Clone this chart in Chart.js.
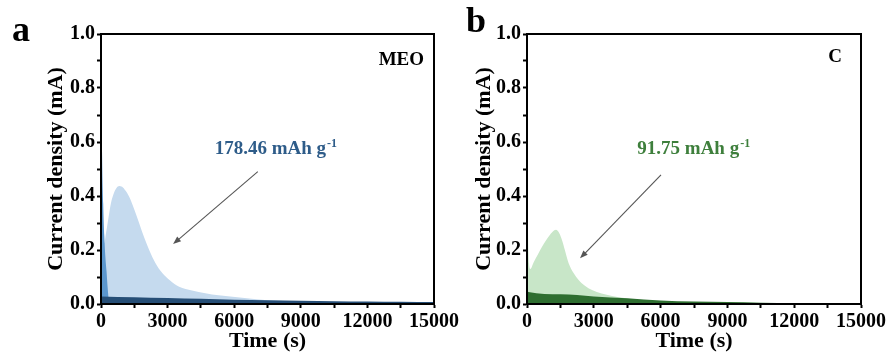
<!DOCTYPE html>
<html>
<head>
<meta charset="utf-8">
<script src="https://cdn.jsdelivr.net/npm/chart.js@4/dist/chart.umd.min.js"></script>
<style>
  html, body { margin: 0; padding: 0; background: #fff; }
  #wrap { position: relative; width: 890px; height: 358px; overflow: hidden; }
  #wrap canvas { position: absolute; top: 0; }
</style>
</head>
<body>
<div id="wrap">
  <canvas id="chartA" width="480" height="358" style="left:0"></canvas>
  <canvas id="chartB" width="445" height="358" style="left:445px"></canvas>
</div>
<script>
// ---- MEO cell (panel a) ----
const meoPeakTime = [0, 60, 150, 220, 300, 450, 600, 700, 820, 950, 1100, 1270, 1500, 1720, 1950, 2170, 2450, 2770, 3100, 3520, 4100, 4700, 5300, 5930, 7000, 8000, 9000, 10400, 12000, 13500, 15000];
const meoPeakCurrent = [0.25, 0.23, 0.226, 0.26, 0.30, 0.374, 0.415, 0.43, 0.437, 0.434, 0.42, 0.397, 0.35, 0.299, 0.245, 0.2, 0.152, 0.114, 0.088, 0.064, 0.05, 0.04, 0.032, 0.027, 0.018, 0.012, 0.0085, 0.005, 0.004, 0.003, 0.003];
const meoSpikeTime = [0, 20, 50, 100, 150, 200, 250, 300, 350, 390];
const meoSpikeCurrent = [1.0, 0.8, 0.55, 0.37, 0.25, 0.17, 0.12, 0.06, 0.015, 0];
const meoBaseTime = [0, 1500, 3000, 4500, 6000, 7500, 9000, 10500, 12000, 13500, 15000];
const meoBaseCurrent = [0.028, 0.025, 0.022, 0.019, 0.016, 0.014, 0.012, 0.0105, 0.009, 0.008, 0.007];

// ---- C cell (panel b) ----
const cPeakTime = [0, 40, 90, 150, 300, 500, 675, 850, 1000, 1150, 1300, 1450, 1570, 1700, 1870, 2100, 2320, 2600, 2920, 3350, 3820, 4300, 4865, 5500, 6500, 8300, 10000, 12000, 15000];
const cPeakCurrent = [0.62, 0.3, 0.15, 0.13, 0.155, 0.185, 0.212, 0.235, 0.253, 0.268, 0.275, 0.262, 0.237, 0.2, 0.151, 0.114, 0.089, 0.068, 0.052, 0.039, 0.03, 0.023, 0.017, 0.013, 0.009, 0.006, 0.005, 0.004, 0.003];
const cBaseTime = [0, 60, 1500, 3000, 4500, 6000, 7500, 9000, 10500, 12000, 13500, 15000];
const cBaseCurrent = [1.0, 0.044, 0.036, 0.028, 0.021, 0.013, 0.009, 0.007, 0.005, 0.004, 0.004, 0.004];

// ---- axes ----
const timeMax = 15000, timeStep = 1500, timeLabelEvery = 3000;
const currentMax = 1.0, currentStep = 0.1;

// ---- annotations ----
const meoCapacity = '178.46 mAh g';
const cCapacity = '91.75 mAh g';

const SERIF = '"Liberation Serif", "Times New Roman", serif';

const toPoints = (xs, ys) => xs.map((x, i) => ({ x, y: ys[i] }));

const area = (xs, ys, color) => ({
  data: toPoints(xs, ys),
  backgroundColor: color,
  borderWidth: 0,
  pointRadius: 0,
  fill: 'origin',
  cubicInterpolationMode: 'monotone',
});

// frame, panel letter, sample name and capacity note with arrow
const decor = {
  id: 'decor',
  afterDraw(chart, args, o) {
    const { ctx, chartArea: a, scales: { x, y } } = chart;
    ctx.save();

    ctx.strokeStyle = '#000';
    ctx.lineWidth = 2;
    ctx.strokeRect(a.left, a.top, a.right - a.left, a.bottom - a.top);

    ctx.fillStyle = '#000';
    ctx.textBaseline = 'alphabetic';
    ctx.font = `bold 36px ${SERIF}`;
    ctx.textAlign = 'left';
    ctx.fillText(o.letter, o.letterPos[0], o.letterPos[1]);

    ctx.font = `bold 19px ${SERIF}`;
    ctx.textAlign = 'right';
    ctx.fillText(o.sample, x.getPixelForValue(o.samplePos[0]), y.getPixelForValue(o.samplePos[1]));

    // capacity with superscript -1
    const tx = x.getPixelForValue(o.notePos[0]);
    const ty = y.getPixelForValue(o.notePos[1]);
    ctx.fillStyle = o.noteColor;
    ctx.textAlign = 'left';
    ctx.fillText(o.note, tx, ty);
    const w = ctx.measureText(o.note).width;
    ctx.font = `bold 12px ${SERIF}`;
    ctx.fillText('-1', tx + w + 1, ty - 7);

    // arrow
    const x0 = x.getPixelForValue(o.arrowFrom[0]), y0 = y.getPixelForValue(o.arrowFrom[1]);
    const x1 = x.getPixelForValue(o.arrowTo[0]), y1 = y.getPixelForValue(o.arrowTo[1]);
    const ang = Math.atan2(y1 - y0, x1 - x0);
    ctx.strokeStyle = '#555';
    ctx.fillStyle = '#555';
    ctx.lineWidth = 1.1;
    ctx.beginPath();
    ctx.moveTo(x0, y0);
    ctx.lineTo(x1 - 5 * Math.cos(ang), y1 - 5 * Math.sin(ang));
    ctx.stroke();
    ctx.beginPath();
    ctx.moveTo(x1, y1);
    ctx.lineTo(x1 - 8 * Math.cos(ang) + 3 * Math.sin(ang), y1 - 8 * Math.sin(ang) - 3 * Math.cos(ang));
    ctx.lineTo(x1 - 8 * Math.cos(ang) - 3 * Math.sin(ang), y1 - 8 * Math.sin(ang) + 3 * Math.cos(ang));
    ctx.closePath();
    ctx.fill();

    ctx.restore();
  }
};

function makeChart(id, datasets, yAxisWidth, yTitlePad, padRight, decorOpts) {
  const tickFont = { family: SERIF, size: 20, weight: 'bold' };
  const grid = {
    drawOnChartArea: false,
    drawTicks: true,
    tickLength: 4,
    tickWidth: 2,
    tickColor: '#000',
  };
  return new Chart(document.getElementById(id), {
    type: 'line',
    data: { datasets },
    plugins: [decor],
    options: {
      responsive: false,
      animation: false,
      devicePixelRatio: 1,
      layout: { padding: { left: 0, top: 34, right: padRight, bottom: 0 } },
      plugins: {
        legend: { display: false },
        tooltip: { enabled: false },
        decor: decorOpts,
      },
      scales: {
        x: {
          type: 'linear',
          min: 0,
          max: timeMax,
          afterFit: s => { s.height = 54; },
          grid,
          border: { display: true, color: '#000', width: 2 },
          ticks: {
            stepSize: timeStep,
            autoSkip: false,
            maxRotation: 0,
            padding: 2,
            color: '#000',
            font: tickFont,
            callback: v => (v % timeLabelEvery === 0 ? String(v) : ''),
          },
          title: {
            display: true,
            text: 'Time (s)',
            color: '#000',
            font: { family: SERIF, size: 22, weight: 'bold' },
            padding: { top: 0, bottom: 3 },
          },
        },
        y: {
          type: 'linear',
          min: 0,
          max: currentMax,
          afterFit: s => { s.width = yAxisWidth; },
          grid,
          border: { display: true, color: '#000', width: 2 },
          ticks: {
            stepSize: currentStep,
            autoSkip: false,
            padding: 2,
            color: '#000',
            font: tickFont,
            callback: v => (Math.round(v * 10) % 2 === 0 ? v.toFixed(1) : ''),
          },
          title: {
            display: true,
            text: 'Current density (mA)',
            color: '#000',
            font: { family: SERIF, size: 22, weight: 'bold' },
            padding: { top: yTitlePad, bottom: 0 },
          },
        },
      },
    },
  });
}

makeChart('chartA', [
  area(meoBaseTime, meoBaseCurrent, '#264e76'),
  area(meoSpikeTime, meoSpikeCurrent, '#5b96cd'),
  area(meoPeakTime, meoPeakCurrent, '#c5daee'),
], 101, 43, 46, {
  letter: 'a', letterPos: [12, 41],
  sample: 'MEO', samplePos: [14550, 0.885],
  note: meoCapacity, notePos: [5120, 0.556], noteColor: '#2e5c89',
  arrowFrom: [7064, 0.49], arrowTo: [3247, 0.222],
});

makeChart('chartB', [
  area(cBaseTime, cBaseCurrent, '#2e6e30'),
  area(cPeakTime, cPeakCurrent, '#c8e6c8'),
], 82, 26, 29, {
  letter: 'b', letterPos: [21, 32],
  sample: 'C', samplePos: [14146, 0.896],
  note: cCapacity, notePos: [4954, 0.556], noteColor: '#3e7f3c',
  arrowFrom: [6018, 0.478], arrowTo: [2380, 0.169],
});
</script>
</body>
</html>
